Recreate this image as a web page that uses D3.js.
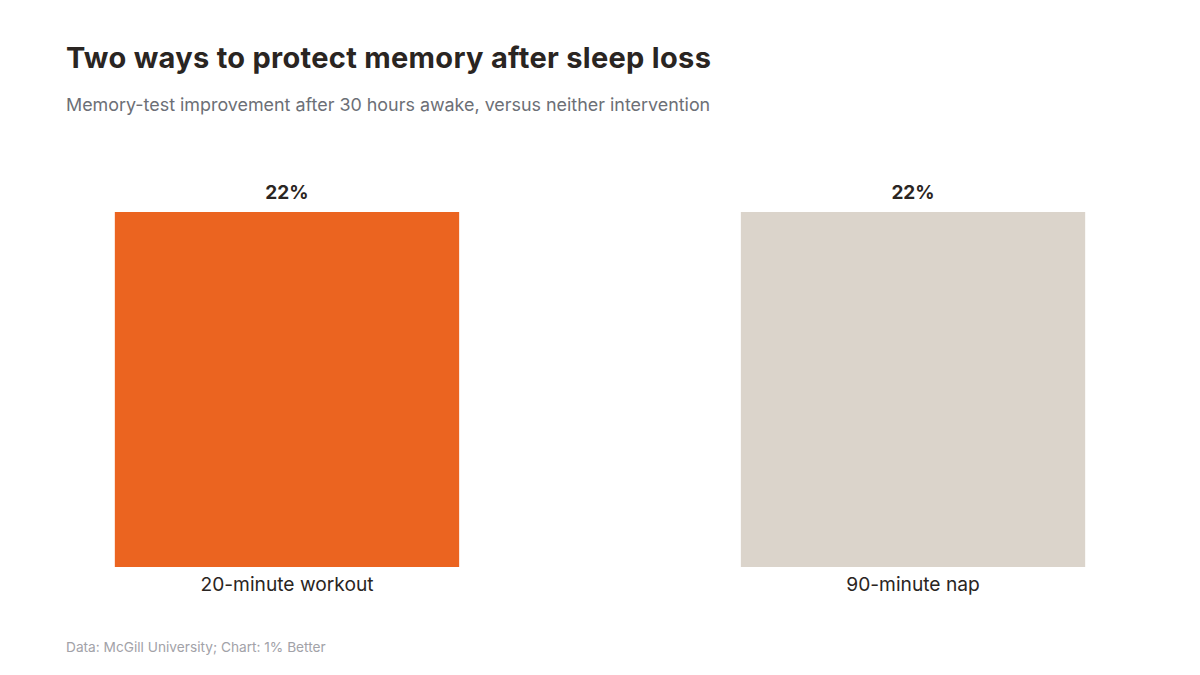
<!DOCTYPE html>
<html>
<head>
<meta charset="utf-8">
<script src="https://cdn.jsdelivr.net/npm/d3@7"></script>
<style>
  body { margin: 0; background: #fff; }
  svg { font-family: Inter, "Noto Sans", sans-serif; }
</style>
</head>
<body>
<div id="chartContainer"></div>
<script>
const categories = ['20-minute workout', '90-minute nap'];
const values = [22, 22];
const barColors = ['#EB6420', '#DBD4CB'];

const svgWidth = 1200;
const svgHeight = 675;

const svg = d3.select('#chartContainer')
    .append('svg')
    .attr('width', svgWidth)
    .attr('height', svgHeight);

const xScale = d3.scaleBand()
    .domain(categories)
    .range([66, 1134])
    .paddingInner(0.45)
    .paddingOuter(0.078);

const yScale = d3.scaleLinear()
    .domain([0, 22])
    .range([567, 212]);

const data = categories.map((c, i) => ({ label: c, value: values[i], color: barColors[i] }));

svg.append('text')
    .attr('x', 66)
    .attr('y', 68)
    .attr('font-size', 29)
    .attr('font-weight', 700)
    .attr('fill', '#2a2522')
    .attr('letter-spacing', 0.3)
    .text('Two ways to protect memory after sleep loss');

svg.append('text')
    .attr('x', 66)
    .attr('y', 111)
    .attr('font-size', 17.9)
    .attr('fill', '#6c6f76')
    .text('Memory-test improvement after 30 hours awake, versus neither intervention');

svg.selectAll('.bar')
    .data(data)
    .enter().append('rect')
    .attr('class', 'bar')
    .attr('x', d => xScale(d.label))
    .attr('y', d => yScale(d.value))
    .attr('width', xScale.bandwidth())
    .attr('height', d => yScale(0) - yScale(d.value))
    .attr('fill', d => d.color);

svg.selectAll('.value-label')
    .data(data)
    .enter().append('text')
    .attr('class', 'value-label')
    .attr('x', d => xScale(d.label) + xScale.bandwidth() / 2)
    .attr('y', d => yScale(d.value) - 13)
    .attr('text-anchor', 'middle')
    .attr('font-size', 19)
    .attr('font-weight', 700)
    .attr('fill', '#2a2522')
    .text(d => d.value + '%');

const xAxis = d3.axisBottom(xScale).tickSize(0).tickPadding(10);
const xg = svg.append('g')
    .attr('transform', `translate(0, ${yScale(0)})`)
    .call(xAxis);
xg.select('.domain').remove();
xg.selectAll('text')
    .attr('font-size', 19.2)
    .attr('fill', '#2a2522')
    .attr('font-family', 'Inter, "Noto Sans", sans-serif');

svg.append('text')
    .attr('x', 66)
    .attr('y', 652)
    .attr('font-size', 13.7)
    .attr('fill', '#a2a2a8')
    .text('Data: McGill University; Chart: 1% Better');
</script>
</body>
</html>
